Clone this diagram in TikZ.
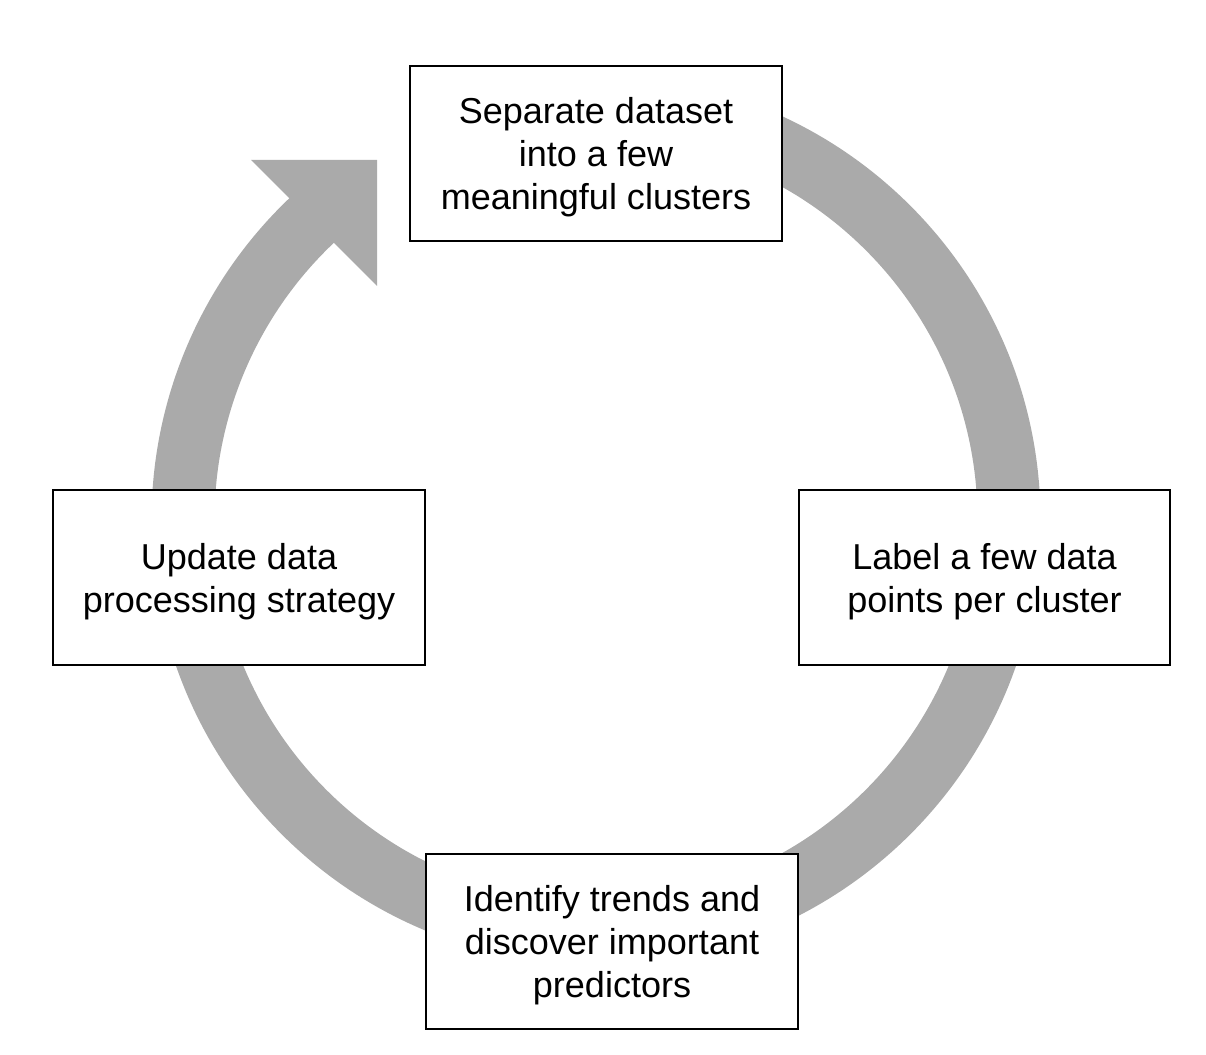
\documentclass[tikz,border=0pt]{standalone}
\usepackage{fontspec}
\setmainfont{Liberation Sans}
\usetikzlibrary{positioning}
\definecolor{ringgray}{HTML}{AAAAAA}

\begin{document}
\begin{tikzpicture}
    [
    x=0.02cm, y=0.02cm,
    stage/.style={draw=black, line width=0.04cm, fill=white, minimum width=7.44cm, minimum height=3.5cm, inner sep=0pt, align=center, font=\fontsize{20.5}{24.5}\selectfont, text depth=0pt},
    ring/.style={draw=ringgray, line width=1.26cm},
    ]

    \useasboundingbox (0,0) rectangle (1206,1054);

    % cycle ring with its head
    \coordinate (ring_centre) at (596,534);
    \draw[ring] (ring_centre) ++(90:413) arc[start angle=90, end angle=-228, radius=413];
    \fill[ringgray] (251,894) -- (377,894) -- (377,768) -- cycle;

    \node[stage] (st_separate) at (596,900.5)
    {Separate dataset\\into a few\\meaningful clusters};

    \node[stage] (st_label) at (984.5,476.5)
    {Label a few data\\points per cluster};

    \node[stage] (st_identify) at (612,112.5)
    {Identify trends and\\discover important\\predictors};

    \node[stage] (st_update) at (239,476.5)
    {Update data\\processing strategy};
\end{tikzpicture}
\end{document}
